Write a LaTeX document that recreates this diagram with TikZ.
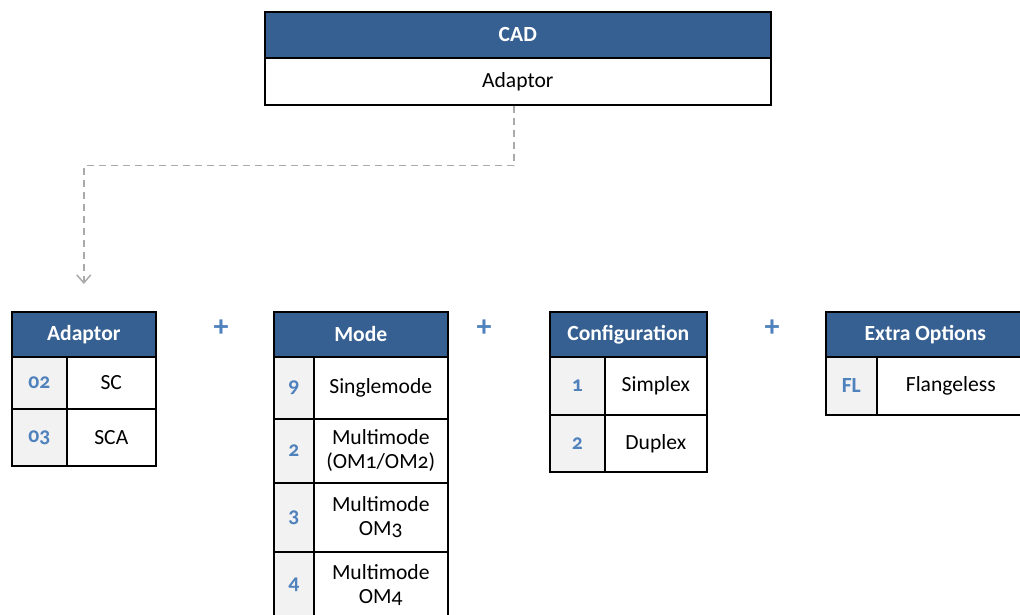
\documentclass[tikz,border=0pt]{standalone}
\usepackage{fontspec}
\setmainfont{Carlito}[Numbers=OldStyle]
\usetikzlibrary{arrows.meta}
\definecolor{hblue}{HTML}{366092}
\definecolor{codeblue}{HTML}{4F81BD}
\definecolor{codegray}{HTML}{F2F2F2}
\definecolor{conngray}{HTML}{AAAAAA}
\newcommand\dfont{\fontsize{21.6}{24}\selectfont}
\tikzset{
  base/.style={draw=black, line width=1.6pt, inner sep=0pt, anchor=north west, align=center},
  hdr/.style={base, fill=hblue, text=white, font=\dfont\bfseries},
  cell/.style={base, fill=white, text=black, font=\dfont},
  codecell/.style={base, fill=codegray, text=codeblue, font=\dfont\bfseries},
  plussign/.style={text=codeblue, font=\fontsize{30}{30}\selectfont\bfseries, inner sep=0pt},
  conn/.style={draw=conngray, line width=1.5pt, dash pattern=on 7pt off 5pt, -{Straight Barb[length=8pt,width=14pt,line width=1.5pt]}}
}
\begin{document}
\begin{tikzpicture}[x=1pt,y=-1pt]
\useasboundingbox (0,0) rectangle (1020,614);
% top box
\node[hdr, minimum width=506pt, minimum height=46pt] (cadh) at (264,11) {CAD};
\node[cell, minimum width=506pt, minimum height=47pt] (cadb) at (264,57) {Adaptor};
% Adaptor table
\node[hdr, minimum width=144pt, minimum height=45pt] (adh) at (11,311) {Adaptor};
\node[codecell, minimum width=55pt, minimum height=52pt] (adc1) at (11,356) {02};
\node[cell, minimum width=89pt, minimum height=52pt] (adv1) at (66,356) {SC};
\node[codecell, minimum width=55pt, minimum height=57pt] (adc2) at (11,408) {03};
\node[cell, minimum width=89pt, minimum height=57pt] (adv2) at (66,408) {SCA};
% plus 1
\node[plussign] (plus1) at (221,328) {+};
% Mode table
\node[hdr, minimum width=174pt, minimum height=45pt] (moh) at (273,311) {Mode};
\node[codecell, minimum width=40pt, minimum height=62pt] (moc1) at (273,356) {9};
\node[cell, minimum width=134pt, minimum height=62pt] (mov1) at (313,356) {Singlemode};
\node[codecell, minimum width=40pt, minimum height=64pt] (moc2) at (273,418) {2};
\node[cell, minimum width=134pt, minimum height=64pt] (mov2) at (313,418) {Multimode\\(OM1/OM2)};
\node[codecell, minimum width=40pt, minimum height=69pt] (moc3) at (273,482) {3};
\node[cell, minimum width=134pt, minimum height=69pt] (mov3) at (313,482) {Multimode\\OM3};
\node[codecell, minimum width=40pt, minimum height=66pt] (moc4) at (273,551) {4};
\node[cell, minimum width=134pt, minimum height=66pt] (mov4) at (313,551) {Multimode\\OM4};
% plus 2
\node[plussign] (plus2) at (484,328) {+};
% Configuration table
\node[hdr, minimum width=157pt, minimum height=45pt] (coh) at (549,311) {Configuration};
\node[codecell, minimum width=55pt, minimum height=58pt] (coc1) at (549,356) {1};
\node[cell, minimum width=102pt, minimum height=58pt] (cov1) at (604,356) {Simplex};
\node[codecell, minimum width=55pt, minimum height=57pt] (coc2) at (549,414) {2};
\node[cell, minimum width=102pt, minimum height=57pt] (cov2) at (604,414) {Duplex};
% plus 3
\node[plussign] (plus3) at (772,328) {+};
% Extra options table
\node[hdr, minimum width=199pt, minimum height=45pt] (exh) at (825,311) {Extra Options};
\node[codecell, minimum width=51pt, minimum height=58pt] (exc1) at (825,356) {FL};
\node[cell, minimum width=148pt, minimum height=58pt] (exv1) at (876,356) {Flangeless};
% connector
\draw[conn] ([xshift=-4pt]cadb.south) -- ++(0,60) -| ([yshift=27pt]adh.north);
\end{tikzpicture}
\end{document}
